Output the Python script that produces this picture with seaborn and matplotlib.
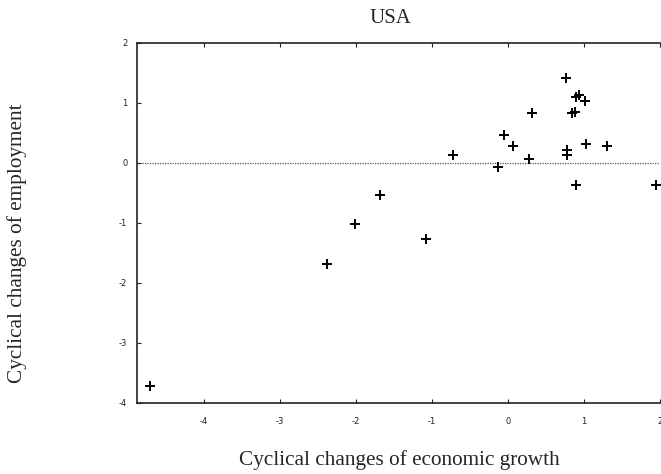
import numpy as np
import pandas as pd
import matplotlib
matplotlib.use("Agg")
import matplotlib.pyplot as plt
import seaborn as sns

# cyclical components
growth = [0.76, 0.89, 0.93, 1.01, 0.31, 0.84, 0.88, -0.05, 0.07, -0.73,
          0.27, -0.13, 0.78, 0.77, 1.02, 1.30, 0.89, 1.94, -1.69, -2.01,
          -2.38, -4.71, -1.08]
employment = [1.42, 1.10, 1.14, 1.03, 0.84, 0.83, 0.85, 0.46, 0.29, 0.14,
              0.06, -0.06, 0.21, 0.14, 0.32, 0.29, -0.37, -0.37, -0.53, -1.02,
              -1.69, -3.72, -1.26]
x_ticks = [-4, -3, -2, -1, 0, 1, 2]
y_ticks = [-4, -3, -2, -1, 0, 1, 2]

data = pd.DataFrame({"growth": growth, "employment": employment})

sns.set_style("ticks")
plt.rcParams["font.family"] = ["DejaVu Sans"]
plt.rcParams["axes.unicode_minus"] = False

fig = plt.figure(figsize=(6.61, 4.74), dpi=100)
ax = fig.add_axes([0.2073, 0.1498, 0.7915, 0.7595])

sns.scatterplot(data=data, x="growth", y="employment", marker="+",
                color="black", s=50, linewidth=1.4, ax=ax)

ax.axhline(0, color="#555555", linestyle=(0, (1, 1)), linewidth=0.9, zorder=0)

ax.set_xlim(-4.88, 2.0)
ax.set_ylim(-4, 2)
ax.set_xticks(x_ticks)
ax.set_yticks(y_ticks)
ax.tick_params(direction="in", length=3, width=0.8, labelsize=6,
               colors="#222222", top=True, pad=7)
ax.tick_params(axis="x", pad=10)
for s in ["left", "bottom", "top"]:
    ax.spines[s].set_linewidth(1.2)
    ax.spines[s].set_color("#222222")
ax.spines["right"].set_visible(False)
ax.set_xlabel("")
ax.set_ylabel("")

serif = ["Liberation Serif", "DejaVu Serif"]
fig.text(0.59, 0.962, "USA", family=serif, fontsize=15, ha="center", va="center")
fig.text(0.604, 0.030, "Cyclical changes of economic growth", family=serif,
         fontsize=15.3, ha="center", va="center")
fig.text(0.026, 0.487, "Cyclical changes of employment", family=serif,
         fontsize=15.3, ha="center", va="center", rotation=90)

fig.savefig("out.png", dpi=100)
